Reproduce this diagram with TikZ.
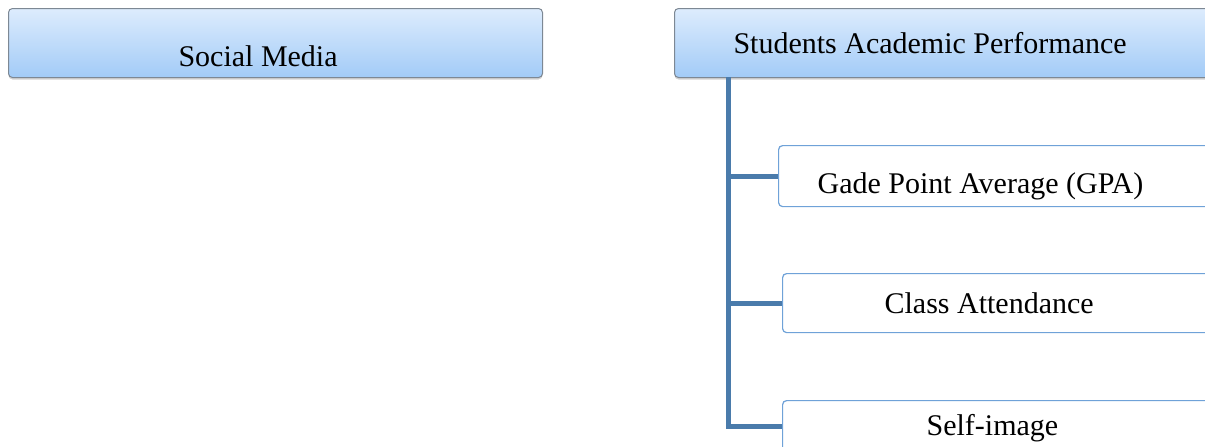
\documentclass[tikz,border=0pt]{standalone}
\usepackage{fontspec}
\setmainfont{Liberation Serif}
\usetikzlibrary{shadows}
\definecolor{boxtop}{HTML}{DDECFD}
\definecolor{boxbot}{HTML}{A2CBF7}
\definecolor{boxedge}{HTML}{7D8894}
\definecolor{kidedge}{HTML}{6FA2D8}
\definecolor{trunk}{HTML}{4A7BAB}
\tikzset{
  topbox/.style={draw=boxedge, line width=1pt, rounded corners=4pt, top color=boxtop, bottom color=boxbot,
    drop shadow={shadow xshift=0pt, shadow yshift=-2pt, opacity=0.35},
    anchor=north west, align=flush left, inner ysep=0pt, font=\fontsize{30}{34}\selectfont},
  kidbox/.style={draw=kidedge, line width=1.2pt, rounded corners=4pt, fill=white,
    anchor=north west, align=flush left, inner ysep=0pt, font=\fontsize{30}{34}\selectfont},
  branch/.style={draw=trunk, line width=5pt, line join=miter}
}
\begin{document}
\begin{tikzpicture}[x=1pt, y=-1pt]
\useasboundingbox (0,0) rectangle (1205,447);
\clip (0,0) rectangle (1205,447);
\node (SM) at (8,8) [topbox, inner xsep=170pt, text width=194pt, text height=58pt, text depth=11pt] {Social Media};
\node (SAP) at (674,8) [topbox, inner xsep=59pt, text width=438pt, text height=45pt, text depth=24pt] {Students Academic Performance};
\node (GPA) at (778,145) [kidbox, inner xsep=39pt, text width=384pt, text height=48pt, text depth=13pt] {Gade Point Average (GPA)};
\node (CA) at (782,273) [kidbox, inner xsep=102pt, text width=254pt, text height=40pt, text depth=19pt] {Class Attendance};
\node (SI) at (782,400) [kidbox, inner xsep=144pt, text width=170pt, text height=35pt, text depth=17pt] {Self-image};
\coordinate (TRK) at (728,77);

\draw [branch] (TRK) |- (GPA.west);
\draw [branch] (TRK) |- (CA.west);
\draw [branch] (TRK) |- (SI.west);
\end{tikzpicture}
\end{document}
